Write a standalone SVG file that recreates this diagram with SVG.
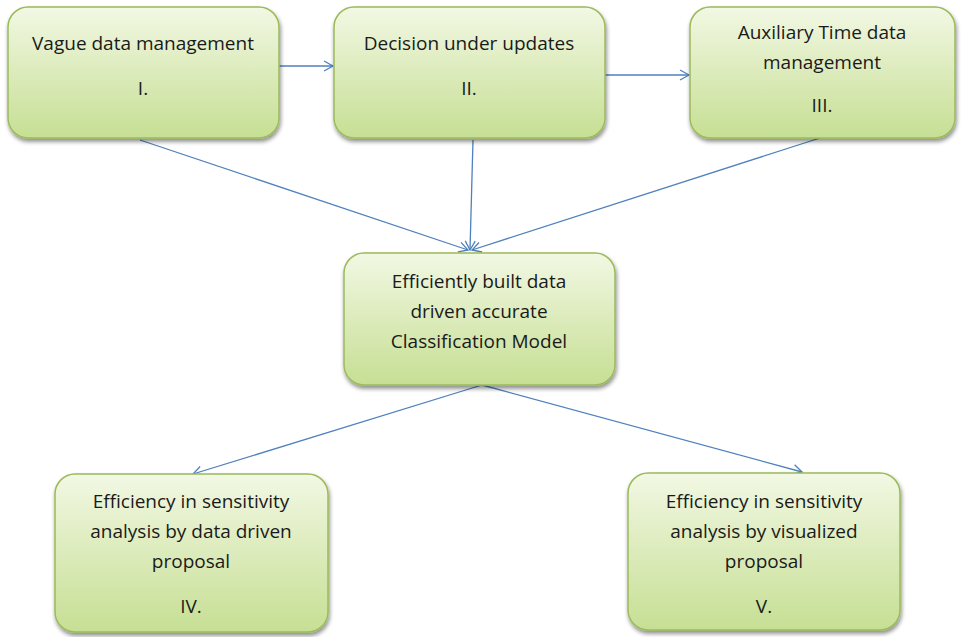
<svg xmlns="http://www.w3.org/2000/svg" width="961" height="637" viewBox="0 0 961 637">
<defs>
  <linearGradient id="g" x1="0" y1="0" x2="0" y2="1">
    <stop offset="0" stop-color="#f2f8e4"/>
    <stop offset="0.5" stop-color="#dcebbb"/>
    <stop offset="1" stop-color="#c6df94"/>
  </linearGradient>
  <filter id="sh" x="-10%" y="-10%" width="120%" height="125%">
    <feGaussianBlur in="SourceAlpha" stdDeviation="2"/>
    <feOffset dx="1" dy="3" result="b"/>
    <feComponentTransfer><feFuncA type="linear" slope="0.45"/></feComponentTransfer>
    <feMerge><feMergeNode/><feMergeNode in="SourceGraphic"/></feMerge>
  </filter>
  <marker id="ah" markerWidth="12" markerHeight="12" refX="10" refY="6" orient="auto" markerUnits="userSpaceOnUse">
    <path d="M1,1 L10,6 L1,11" fill="none" stroke="#4f81bd" stroke-width="1.3"/>
  </marker>
</defs>
<style>
  .box { fill: url(#g); stroke: #9bbb59; stroke-width: 1.5; filter: url(#sh); }
  .t { font-family: "Open Sans", "Liberation Sans", sans-serif; font-size: 19px; fill: #1a1a1a; text-anchor: middle; }
  .c { stroke: #4f81bd; stroke-width: 1.3; fill: none; marker-end: url(#ah); }
</style>
<rect width="961" height="637" fill="#ffffff"/>
<g id="connectors">
  <line class="c" x1="279" y1="66" x2="333" y2="66"/>
  <line class="c" x1="605" y1="75" x2="689" y2="75"/>
  <line class="c" x1="140" y1="140" x2="468" y2="250"/>
  <line class="c" x1="473" y1="140" x2="470" y2="250"/>
  <line class="c" x1="820" y1="138" x2="472" y2="250"/>
  <line class="c" x1="482" y1="385" x2="193" y2="474"/>
  <line class="c" x1="482" y1="385" x2="802" y2="472"/>
</g>
<g id="n1">
  <rect class="box" x="8" y="7" width="271" height="131" rx="20"/>
  <text class="t" x="143" y="50">Vague data management</text>
  <text class="t" x="143" y="95">I.</text>
</g>
<g id="n2">
  <rect class="box" x="334" y="7" width="271" height="131" rx="20"/>
  <text class="t" x="469" y="50">Decision under updates</text>
  <text class="t" x="469" y="95">II.</text>
</g>
<g id="n3">
  <rect class="box" x="690" y="7" width="265" height="131" rx="20"/>
  <text class="t" x="822" y="39">Auxiliary Time data</text>
  <text class="t" x="822" y="69">management</text>
  <text class="t" x="822" y="112">III.</text>
</g>
<g id="n4">
  <rect class="box" x="344" y="253" width="271" height="132" rx="20"/>
  <text class="t" x="479" y="288">Efficiently built data</text>
  <text class="t" x="479" y="318">driven accurate</text>
  <text class="t" x="479" y="348">Classification Model</text>
</g>
<g id="n5">
  <rect class="box" x="55" y="474" width="273" height="158" rx="20"/>
  <text class="t" x="191" y="508">Efficiency in sensitivity</text>
  <text class="t" x="191" y="538">analysis by data driven</text>
  <text class="t" x="191" y="568">proposal</text>
  <text class="t" x="191" y="613">IV.</text>
</g>
<g id="n6">
  <rect class="box" x="628" y="473" width="272" height="157" rx="20"/>
  <text class="t" x="764" y="508">Efficiency in sensitivity</text>
  <text class="t" x="764" y="538">analysis by visualized</text>
  <text class="t" x="764" y="568">proposal</text>
  <text class="t" x="764" y="613">V.</text>
</g>
</svg>
